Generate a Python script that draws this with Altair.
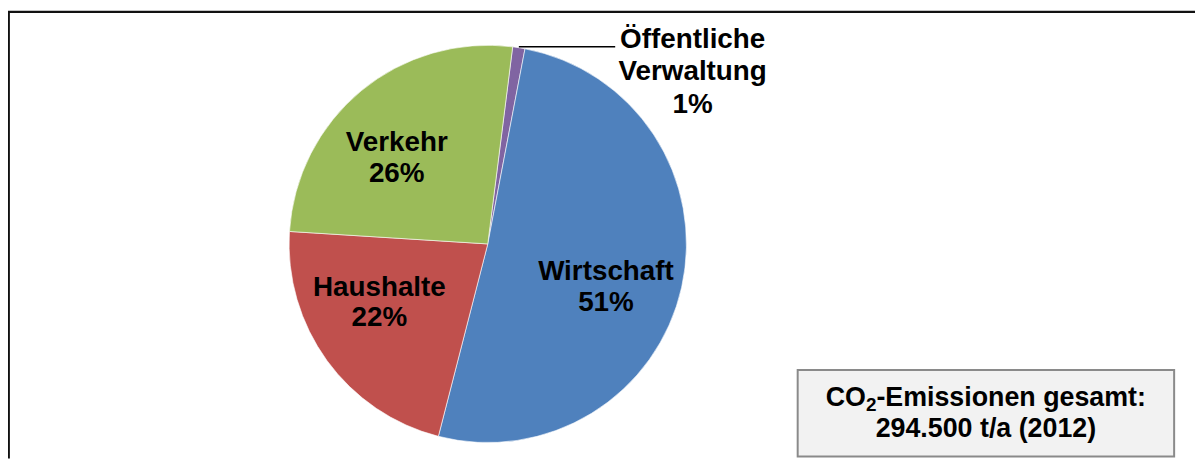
import math
import altair as alt
import pandas as pd

# ---- data ----
categories = ["Öffentliche Verwaltung", "Wirtschaft", "Haushalte", "Verkehr"]
shares = [1, 51, 22, 26]
label_lines = [
    ["Öffentliche", "Verwaltung", "1%"],
    ["Wirtschaft", "51%"],
    ["Haushalte", "22%"],
    ["Verkehr", "26%"],
]
total_line1 = ["CO", "2", "-Emissionen gesamt:"]
total_line2 = "294.500 t/a (2012)"

# ---- styles ----
colors = ["#8064A2", "#4F81BD", "#C0504D", "#9BBB59"]
FONT = "Liberation Sans"
W, H = 1195, 452
CX, CY, R = 483, 236, 200
START_DEG = 7.2
LS = 28  # label font size
label_style = {
    "Öffentliche Verwaltung": dict(radius=200, dx=175, dy=-8, lineHeight=33),
    "Wirtschaft": dict(radius=125, dx=-3, dy=1.5, lineHeight=31),
    "Haushalte": dict(radius=125, dx=-8, dy=-29.5, lineHeight=31),
    "Verkehr": dict(radius=125, dx=-12, dy=-5.5, lineHeight=31),
}

total = sum(shares)
starts, ends, acc = [], [], 0
for s in shares:
    starts.append(acc)
    acc += s
    ends.append(acc)
df = pd.DataFrame({
    "category": categories,
    "share": shares,
    "start": starts,
    "end": ends,
    "mid": [(a + b) / 2 for a, b in zip(starts, ends)],
    "lines": label_lines,
})

t0 = math.radians(START_DEG)
theta_scale = alt.Scale(domain=[0, total], range=[t0, t0 + 2 * math.pi])

base = alt.Chart(df)

pie = base.mark_arc(outerRadius=R, stroke="white", strokeWidth=0.6).encode(
    theta=alt.Theta("start:Q", scale=theta_scale),
    theta2="end:Q",
    color=alt.Color("category:N", scale=alt.Scale(domain=categories, range=colors), legend=None),
    x=alt.value(CX),
    y=alt.value(CY),
)

layers = [pie]
for cat in categories:
    st = label_style[cat]
    layers.append(
        base.transform_filter(alt.datum.category == cat)
        .mark_text(
            radius=st["radius"], dx=st["dx"], dy=st["dy"], lineHeight=st["lineHeight"],
            font=FONT, fontSize=LS, fontWeight="bold", align="center", baseline="middle",
            color="black",
        )
        .encode(
            theta=alt.Theta("mid:Q", scale=theta_scale),
            text="lines",
            x=alt.value(CX),
            y=alt.value(CY),
        )
    )

# leader line for the small slice, derived from the pie geometry
small = df.iloc[0]
ang = t0 + 2 * math.pi * small["mid"] / total
lx = CX + R * math.sin(ang)
ly = CY - R * math.cos(ang) - 1
one = alt.Chart(pd.DataFrame({"k": [0]}))
leader = one.mark_rule(color="black", strokeWidth=1.5).encode(
    x=alt.value(lx), x2=alt.value(lx + 97), y=alt.value(ly)
)

# info box
BX0, BX1, BY0, BY1 = 795, 1174, 363, 450
box = one.mark_rect(fill="#f2f2f2", stroke="#8a8a8a", strokeWidth=2).encode(
    x=alt.value(BX0), x2=alt.value(BX1), y=alt.value(BY0), y2=alt.value(BY1)
)
BS, SUB = 27, 19
# Arial/Liberation bold advance widths (em) for layout of the subscripted first line
w_co = (0.722 + 0.778) * BS
w_sub = 0.556 * SUB
w_rest = 10.058 * BS
bx_c = (BX0 + BX1) / 2
x_start = bx_c - (w_co + w_sub + w_rest) / 2
base1 = 399
txt_kw = dict(font=FONT, fontWeight="bold", align="left", baseline="alphabetic", color="black")
t_co = one.mark_text(fontSize=BS, **txt_kw).encode(
    x=alt.value(x_start), y=alt.value(base1), text=alt.value(total_line1[0]))
t_sub = one.mark_text(fontSize=SUB, **txt_kw).encode(
    x=alt.value(x_start + w_co), y=alt.value(base1 + 5), text=alt.value(total_line1[1]))
t_rest = one.mark_text(fontSize=BS, **txt_kw).encode(
    x=alt.value(x_start + w_co + w_sub), y=alt.value(base1), text=alt.value(total_line1[2]))
t_line2 = one.mark_text(fontSize=BS, font=FONT, fontWeight="bold", align="center",
                        baseline="alphabetic", color="black").encode(
    x=alt.value(bx_c), y=alt.value(430), text=alt.value(total_line2))

# outer frame (top and left edges)
frame_top = one.mark_rule(color="#111", strokeWidth=2.2).encode(
    x=alt.value(0), x2=alt.value(W), y=alt.value(2.3)
)
frame_left = one.mark_rule(color="#111", strokeWidth=2.2).encode(
    x=alt.value(0.8), y=alt.value(2), y2=alt.value(H)
)

chart = alt.layer(
    *layers, leader, box, t_co, t_sub, t_rest, t_line2, frame_top, frame_left
).properties(
    width=W, height=H, padding=0, autosize="none", background="white"
).configure_view(strokeWidth=0)

chart.save("out.html", embed_options={"renderer": "svg", "actions": False})
